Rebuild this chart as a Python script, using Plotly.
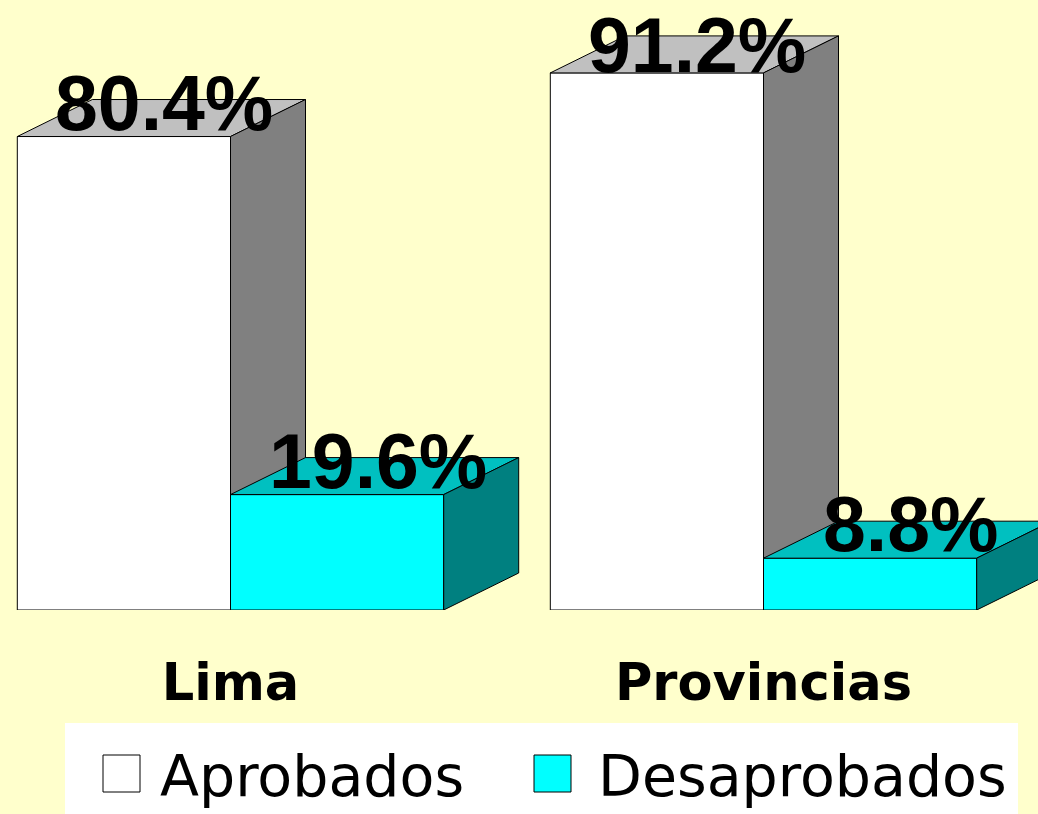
import plotly.graph_objects as go

# ---------------- data ----------------
categories = ["Lima", "Provincias"]
series_names = ["Aprobados", "Desaprobados"]
aprobados = [80.4, 91.2]
desaprobados = [19.6, 8.8]

# ---------------- style ----------------
W, H = 1038, 814
BG = "#FFFFCC"
front_colors = ["#FFFFFF", "#00FFFF"]
top_colors = ["#C0C0C0", "#00C0C0"]
side_colors = ["#808080", "#008080"]
BAR_W = 0.4          # width of each bar (group spacing = 1)
PX_X = 533.0         # pixels per x unit
PX_Y = 5.889         # pixels per y unit
DX = 75 / PX_X       # 3D depth offset (x)
DY = 37 / PX_Y       # 3D depth offset (y)
X0_PX = 230.5        # pixel of x = 0
AXIS_PX = 610.0      # pixel of y = 0 (from top)
MB = H - AXIS_PX
LABEL_SIZE = 77

x_range = [-X0_PX / PX_X, (W - X0_PX) / PX_X]
y_range = [0, AXIS_PX / PX_Y]


def py(px):  # pixel row -> paper y
    return (AXIS_PX - px) / AXIS_PX


def pxx(px):  # pixel col -> paper x
    return px / W


fig = go.Figure()
series_values = [aprobados, desaprobados]
annotations = []

for gi, cat in enumerate(categories):
    for si, name in enumerate(series_names):
        v = series_values[si][gi]
        x0 = gi + (si - 1) * BAR_W
        x1 = x0 + BAR_W
        line = dict(color="black", width=1)
        # front face
        fig.add_trace(go.Scatter(
            x=[x0, x1, x1, x0, x0], y=[0, 0, v, v, 0], mode="lines",
            fill="toself", fillcolor=front_colors[si], line=line,
            hoverinfo="skip", showlegend=False))
        # top face
        fig.add_trace(go.Scatter(
            x=[x0, x1, x1 + DX, x0 + DX, x0], y=[v, v, v + DY, v + DY, v],
            mode="lines", fill="toself", fillcolor=top_colors[si], line=line,
            hoverinfo="skip", showlegend=False))
        # side face
        fig.add_trace(go.Scatter(
            x=[x1, x1 + DX, x1 + DX, x1, x1], y=[0, DY, v + DY, v, 0],
            mode="lines", fill="toself", fillcolor=side_colors[si], line=line,
            hoverinfo="skip", showlegend=False))
        # value label: centred on the back edge of the top face, kept inside the figure
        ys = -3
        centre_px = AXIS_PX - (v + DY) * PX_Y - ys
        half_box = 0.58 * LABEL_SIZE
        if centre_px < half_box:
            ys -= (half_box - centre_px)
        annotations.append(dict(
            x=x0 + BAR_W / 2 + DX / 2, y=v + DY, xref="x", yref="y",
            text=f"{v:.1f}%", showarrow=False, xanchor="center", yanchor="middle",
            xshift=3, yshift=ys,
            font=dict(family="Liberation Sans", size=LABEL_SIZE, color="black", weight="bold")))

# ---------------- legend (drawn manually to match large symbols) ----------------
shapes = [
    dict(type="rect", xref="paper", yref="paper", x0=pxx(65), x1=pxx(1018),
         y0=py(814), y1=py(723), fillcolor="white", line=dict(width=0), layer="above"),
]
leg_sq = [(103, 140), (534, 571)]
leg_txt = [158, 596]
for si, name in enumerate(series_names):
    a, b = leg_sq[si]
    shapes.append(dict(type="rect", xref="paper", yref="paper", x0=pxx(a), x1=pxx(b),
                       y0=py(792), y1=py(755), fillcolor=front_colors[si],
                       line=dict(color="black", width=1), layer="above"))
    annotations.append(dict(
        x=pxx(leg_txt[si]), y=py(776), xref="paper", yref="paper", text=name,
        showarrow=False, xanchor="left", yanchor="middle",
        font=dict(family="DejaVu Sans", size=57, color="black")))

fig.update_layout(
    width=W, height=H,
    margin=dict(l=0, r=0, t=0, b=MB, pad=0),
    paper_bgcolor=BG, plot_bgcolor=BG,
    showlegend=False,
    shapes=shapes, annotations=annotations,
    xaxis=dict(range=x_range, showgrid=False, zeroline=False, showline=False,
               tickmode="array", tickvals=list(range(len(categories))),
               ticktext=categories, ticks="", ticklabelstandoff=38,
               tickfont=dict(family="DejaVu Sans", size=51, color="black", weight="bold"),
               fixedrange=True),
    yaxis=dict(range=y_range, showgrid=False, zeroline=False, showline=False,
               showticklabels=False, ticks="", fixedrange=True),
)

fig.write_html("out.html", config={"displayModeBar": False},
               post_script="document.body.style.margin='0';")
